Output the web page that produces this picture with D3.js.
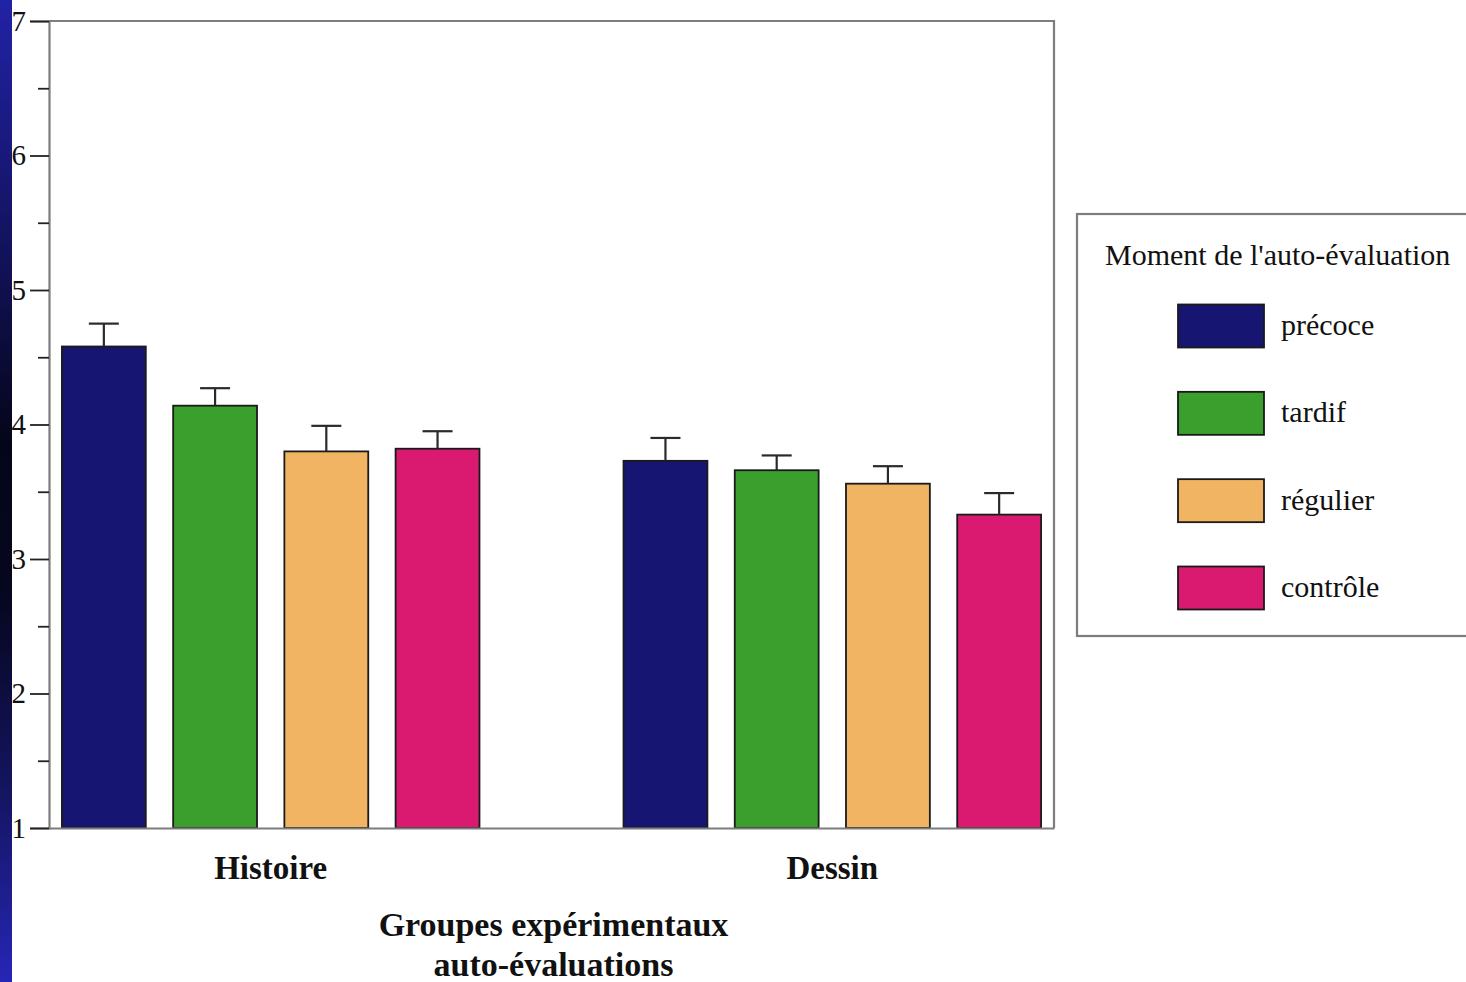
<!DOCTYPE html>
<html>
<head>
<meta charset="utf-8">
<script src="https://cdn.jsdelivr.net/npm/d3@7"></script>
<style>
  html, body { margin: 0; padding: 0; background: #fff; }
  svg { display: block; }
  text { font-family: "Liberation Serif", "Times New Roman", serif; fill: #111; }
</style>
</head>
<body>
<svg id="chart" width="1466" height="982"></svg>
<script>
// Groups, moments and mean self-evaluation scores (with standard error)
const groups = ["Histoire", "Dessin"];
const moments = ["précoce", "tardif", "régulier", "contrôle"];
const histoireMeans = [4.58, 4.14, 3.80, 3.82];
const histoireErrors = [0.17, 0.13, 0.19, 0.13];
const dessinMeans = [3.73, 3.66, 3.56, 3.33];
const dessinErrors = [0.17, 0.11, 0.13, 0.16];
const yTicks = [1, 2, 3, 4, 5, 6, 7];
const yMinorTicks = [1.5, 2.5, 3.5, 4.5, 5.5, 6.5];
const momentColors = ["#161672", "#3a9f2c", "#f1b463", "#d91a70"];
const xTitle = ["Groupes expérimentaux", "auto-évaluations"];
const legendTitle = "Moment de l'auto-évaluation";

const rows = [];
groups.forEach((g, gi) => {
  const means = gi === 0 ? histoireMeans : dessinMeans;
  const errs = gi === 0 ? histoireErrors : dessinErrors;
  moments.forEach((m, mi) => rows.push({ group: g, moment: m, mean: means[mi], err: errs[mi] }));
});

const svg = d3.select("#chart");

// Presentation background stripe on the left edge
const defs = svg.append("defs");
const grad = defs.append("linearGradient").attr("id", "stripe")
  .attr("x1", 0).attr("y1", 0).attr("x2", 0).attr("y2", 1);
[[0, "#2222a6"], [0.2, "#16166e"], [0.45, "#05051a"], [0.6, "#06061e"], [0.8, "#14145e"], [1, "#2626b6"]]
  .forEach(([o, c]) => grad.append("stop").attr("offset", o).attr("stop-color", c));
svg.append("rect").attr("x", 0).attr("y", 0).attr("width", 12).attr("height", 982).attr("fill", "url(#stripe)");

// Scales
const plotLeft = 49, plotRight = 1054, plotTop = 21, plotBottom = 828;
const y = d3.scaleLinear().domain([1, 7]).range([plotBottom, plotTop]);
const x0 = d3.scaleBand().domain(groups).range([plotLeft, plotRight]).paddingInner(0.2565).paddingOuter(0.023);
const x1 = d3.scaleBand().domain(moments).range([0, x0.bandwidth()]).paddingInner(0.246).paddingOuter(0);
const color = d3.scaleOrdinal().domain(moments).range(momentColors);

// Plot frame (top and right)
svg.append("path")
  .attr("d", `M${plotLeft},${plotTop}H${plotRight}V${plotBottom}`)
  .attr("fill", "none").attr("stroke", "#7d7d7d").attr("stroke-width", 2.2);

// Bars
const barG = svg.append("g");
barG.selectAll("rect").data(rows).join("rect")
  .attr("x", d => x0(d.group) + x1(d.moment))
  .attr("y", d => y(d.mean))
  .attr("width", x1.bandwidth())
  .attr("height", d => y(1) - y(d.mean))
  .attr("fill", d => color(d.moment))
  .attr("stroke", "#1a1a1a").attr("stroke-width", 1.8);

// Error bars (upper whisker only)
const errG = svg.append("g").attr("stroke", "#2a2a2a").attr("stroke-width", 2.2);
rows.forEach(d => {
  const cx = x0(d.group) + x1(d.moment) + x1.bandwidth() / 2;
  errG.append("line").attr("x1", cx).attr("x2", cx).attr("y1", y(d.mean)).attr("y2", y(d.mean + d.err));
  errG.append("line").attr("x1", cx - 15).attr("x2", cx + 15).attr("y1", y(d.mean + d.err)).attr("y2", y(d.mean + d.err));
});

// Y axis: major and minor ticks
const yAxis = svg.append("g").attr("transform", `translate(${plotLeft},0)`)
  .call(d3.axisLeft(y).tickValues(yTicks).tickSize(19).tickPadding(4).tickFormat(d3.format("d")));
yAxis.select(".domain").attr("stroke", "#7d7d7d").attr("stroke-width", 2.2);
yAxis.selectAll(".tick line").attr("stroke", "#222").attr("stroke-width", 1.8);
yAxis.selectAll(".tick text").attr("font-size", 29).attr("font-family", "Liberation Serif").attr("fill", "#111");

const yMinor = svg.append("g").attr("transform", `translate(${plotLeft},0)`)
  .call(d3.axisLeft(y).tickValues(yMinorTicks).tickSize(11).tickFormat(""));
yMinor.select(".domain").remove();
yMinor.selectAll(".tick line").attr("stroke", "#222").attr("stroke-width", 1.8);

// X axis baseline and group labels
const xAxis = svg.append("g").attr("transform", `translate(0,${plotBottom})`)
  .call(d3.axisBottom(x0).tickSize(0).tickPadding(28));
xAxis.select(".domain").attr("stroke", "#7d7d7d").attr("stroke-width", 2.2);
xAxis.selectAll(".tick text")
  .attr("font-size", 33).attr("font-weight", "bold").attr("font-family", "Liberation Serif").attr("fill", "#111");

// X axis title
const cxPlot = (plotLeft + plotRight) / 2;
svg.append("text").attr("x", cxPlot + 2).attr("y", 936).attr("text-anchor", "middle")
  .attr("font-size", 34).attr("font-weight", "bold").text(xTitle[0]);
svg.append("text").attr("x", cxPlot + 2).attr("y", 976).attr("text-anchor", "middle")
  .attr("font-size", 34).attr("font-weight", "bold").text(xTitle[1]);

// Legend
const legend = svg.append("g");
legend.append("rect").attr("x", 1077).attr("y", 214).attr("width", 420).attr("height", 422)
  .attr("fill", "#fff").attr("stroke", "#7d7d7d").attr("stroke-width", 2.2);
legend.append("text").attr("x", 1105).attr("y", 265).attr("font-size", 30).text(legendTitle);
const ly = d3.scalePoint().domain(moments).range([326, 588]);
const items = legend.selectAll("g.item").data(moments).join("g").attr("class", "item");
items.append("rect")
  .attr("x", 1178).attr("y", d => ly(d) - 21.5).attr("width", 86).attr("height", 43)
  .attr("fill", d => color(d)).attr("stroke", "#1a1a1a").attr("stroke-width", 1.8);
items.append("text")
  .attr("x", 1281).attr("y", d => ly(d) + 9).attr("font-size", 30).text(d => d);
</script>
</body>
</html>
